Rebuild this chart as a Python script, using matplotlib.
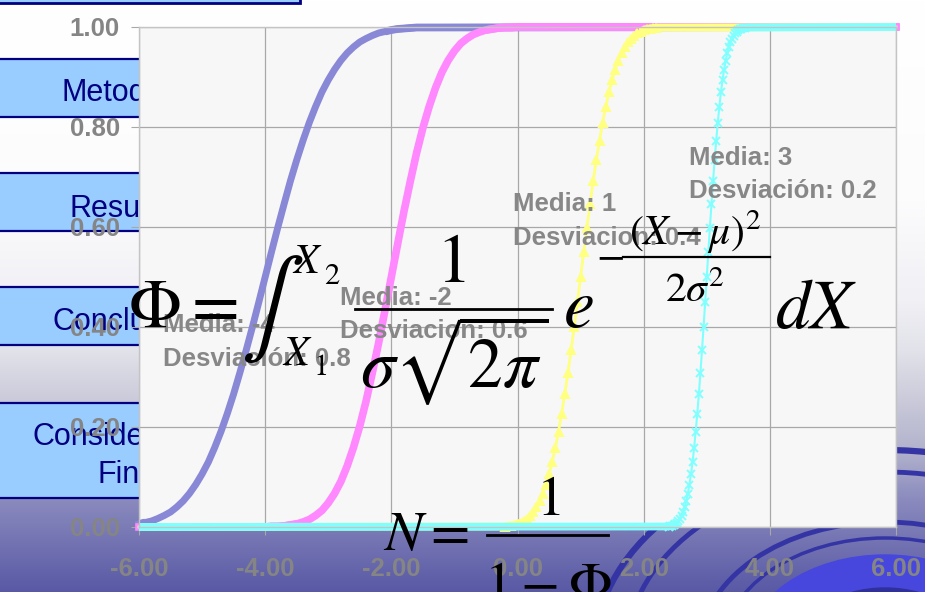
import numpy as np
import matplotlib
matplotlib.use('Agg')
import matplotlib.pyplot as plt
from matplotlib.patches import Rectangle, Ellipse

plt.rcParams['axes.unicode_minus'] = False
plt.rcParams['mathtext.fontset'] = 'stix'
plt.rcParams['font.family'] = ['Liberation Sans', 'DejaVu Sans']

# ---------- datos ----------
x_ticks = [-6, -4, -2, 0, 2, 4, 6]
x_labels = ['-6.00', '-4.00', '-2.00', '0.00', '2.00', '4.00', '6.00']
y_ticks = [0.0, 0.2, 0.4, 0.6, 0.8, 1.0]
y_labels = ['0.00', '0.20', '0.40', '0.60', '0.80', '1.00']

# Media -4, desviacion 0.8
x_m4 = [-6.0, -5.9, -5.8, -5.7, -5.6, -5.5, -5.4, -5.3, -5.2, -5.1, -5.0,
        -4.9, -4.8, -4.7, -4.6, -4.5, -4.4, -4.3, -4.2, -4.1, -4.0,
        -3.9, -3.8, -3.7, -3.6, -3.5, -3.4, -3.3, -3.2, -3.1, -3.0,
        -2.9, -2.8, -2.7, -2.6, -2.5, -2.4, -2.3, -2.2, -2.1, -2.0,
        -1.9, -1.8, -1.7, -1.6, 6.0]
y_m4 = [0.006, 0.009, 0.012, 0.017, 0.023, 0.030, 0.040, 0.052, 0.067, 0.085, 0.106,
        0.130, 0.159, 0.191, 0.227, 0.266, 0.309, 0.354, 0.401, 0.450, 0.500,
        0.550, 0.599, 0.646, 0.692, 0.734, 0.773, 0.809, 0.841, 0.870, 0.894,
        0.915, 0.933, 0.948, 0.960, 0.970, 0.977, 0.983, 0.988, 0.991, 0.994,
        0.996, 0.997, 0.998, 0.999, 1.000]

# Media -2, desviacion 0.6
x_m2 = [-6.0, -4.0, -3.9, -3.8, -3.7, -3.6, -3.5, -3.4, -3.3, -3.2, -3.1,
        -3.0, -2.9, -2.8, -2.7, -2.6, -2.5, -2.4, -2.3, -2.2, -2.1, -2.0,
        -1.9, -1.8, -1.7, -1.6, -1.5, -1.4, -1.3, -1.2, -1.1, -1.0,
        -0.9, -0.8, -0.7, -0.6, -0.5, -0.4, -0.3, -0.2, -0.1, 0.0, 6.0]
y_m2 = [0.000, 0.000, 0.001, 0.001, 0.002, 0.004, 0.006, 0.010, 0.015, 0.023, 0.033,
        0.048, 0.067, 0.091, 0.122, 0.159, 0.202, 0.252, 0.309, 0.369, 0.434, 0.500,
        0.566, 0.631, 0.691, 0.748, 0.798, 0.841, 0.878, 0.909, 0.933, 0.952,
        0.967, 0.977, 0.985, 0.990, 0.994, 0.996, 0.998, 0.999, 0.999, 1.000, 1.000]

# Media 1, desviacion 0.4
x_p1 = [-6.0, -0.2, -0.15, -0.1, -0.05, 0.0, 0.05, 0.1, 0.15, 0.2, 0.25, 0.3,
        0.35, 0.4, 0.45, 0.5, 0.55, 0.6, 0.65, 0.7, 0.75, 0.8, 0.85, 0.9, 0.95,
        1.0, 1.05, 1.1, 1.15, 1.2, 1.25, 1.3, 1.35, 1.4, 1.45, 1.5, 1.55, 1.6,
        1.65, 1.7, 1.75, 1.8, 1.85, 1.9, 1.95, 2.0, 2.05, 2.1, 2.15, 2.2, 6.0]
y_p1 = [0.000, 0.001, 0.002, 0.003, 0.004, 0.006, 0.009, 0.012, 0.017, 0.023, 0.030, 0.040,
        0.052, 0.067, 0.085, 0.106, 0.130, 0.159, 0.191, 0.227, 0.266, 0.309, 0.354, 0.401, 0.450,
        0.500, 0.550, 0.599, 0.646, 0.692, 0.734, 0.773, 0.809, 0.841, 0.870, 0.894, 0.915, 0.933,
        0.948, 0.960, 0.970, 0.977, 0.983, 0.988, 0.991, 0.994, 0.996, 0.997, 0.998, 0.999, 1.000]

# Media 3, desviacion 0.2
x_p3 = [-6.0, 2.4, 2.425, 2.45, 2.475, 2.5, 2.525, 2.55, 2.575, 2.6, 2.625, 2.65,
        2.675, 2.7, 2.725, 2.75, 2.775, 2.8, 2.825, 2.85, 2.875, 2.9, 2.925, 2.95, 2.975,
        3.0, 3.025, 3.05, 3.075, 3.1, 3.125, 3.15, 3.175, 3.2, 3.225, 3.25, 3.275, 3.3,
        3.325, 3.35, 3.375, 3.4, 3.425, 3.45, 3.475, 3.5, 3.525, 3.55, 3.575, 3.6, 6.0]
y_p3 = [0.000, 0.001, 0.002, 0.003, 0.004, 0.006, 0.009, 0.012, 0.017, 0.023, 0.030, 0.040,
        0.052, 0.067, 0.085, 0.106, 0.130, 0.159, 0.191, 0.227, 0.266, 0.309, 0.354, 0.401, 0.450,
        0.500, 0.550, 0.599, 0.646, 0.692, 0.734, 0.773, 0.809, 0.841, 0.870, 0.894, 0.915, 0.933,
        0.948, 0.960, 0.970, 0.977, 0.983, 0.988, 0.991, 0.994, 0.996, 0.997, 0.998, 0.999, 1.000]

etiquetas = [['Media: -4', 'Desviación: 0.8'],
             ['Media: -2', 'Desviacion: 0.6'],
             ['Media: 1', 'Desviacion: 0.4'],
             ['Media: 3', 'Desviación: 0.2']]

botones = ['Metodología', 'Resultados', 'Conclusiones', 'Consideraciones', 'Finales']

# ---------- figura (coordenadas en pixeles) ----------
W, H = 925, 592
fig = plt.figure(figsize=(W / 100, H / 100), dpi=100)

# fondo de la diapositiva
bg = fig.add_axes([0, 0, 1, 1], zorder=0)
bg.set_xlim(0, W)
bg.set_ylim(H, 0)
bg.axis('off')
stop_y = [0, 200, 300, 350, 400, 450, 500, 592]
stop_c = np.array([[255, 255, 255], [252, 252, 253], [240, 240, 245], [226, 226, 234],
                   [202, 202, 218], [178, 178, 205], [138, 138, 190], [88, 88, 165]]) / 255
rows = np.arange(H)
grad = np.stack([np.interp(rows, stop_y, stop_c[:, k]) for k in range(3)], axis=-1)[:, None, :]
bg.imshow(grad, extent=(0, W, H, 0), aspect='auto', zorder=0)

# arcos decorativos abajo a la derecha
for b, lw in [(200, 4.5), (178, 3.5), (128, 3.5), (112, 2.5)]:
    bg.add_patch(Ellipse((885, 650), 2 * b * 1.45, 2 * b, fill=False,
                         edgecolor='#3434A4', lw=lw, zorder=1))
bg.add_patch(Ellipse((885, 650), 2 * 95 * 1.45, 2 * 95, color='#4747DD', zorder=1))
bg.add_patch(Ellipse((885, 650), 2 * 62 * 1.45, 2 * 62, color='#30309C', zorder=1))

# botones del menu lateral
bg.add_patch(Rectangle((-3, -12), 303, 15, facecolor='#99CCFF', edgecolor='#000080', lw=2, zorder=2))
for top, bottom in [(59, 117), (173, 231), (287, 345), (403, 498)]:
    bg.add_patch(Rectangle((-3, top), 303, bottom - top, facecolor='#99CCFF',
                           edgecolor='#000080', lw=1.6, zorder=2))
for txt, (bx, by) in zip(botones, [(62, 101), (70, 217), (53, 330), (32, 445), (98, 483)]):
    bg.text(bx, by, txt, fontsize=22, color='#000080', va='baseline', ha='left', zorder=3)

# ---------- grafico ----------
ax = fig.add_axes([139 / W, 1 - 527 / H, 757 / W, 500 / H], zorder=1)
ax.set_facecolor('#F7F7F7')
ax.set_xlim(-6, 6)
ax.set_ylim(0, 1)
ax.set_xticks(x_ticks)
ax.set_xticklabels(x_labels, fontweight='bold')
ax.set_yticks(y_ticks)
ax.set_yticklabels(y_labels, fontweight='bold')
ax.tick_params(colors='#A8A8A8', labelcolor='#858585', labelsize=18.5, length=5.8, width=0.8)
ax.tick_params(axis='x', pad=16)
ax.tick_params(axis='y', pad=8)
for s in ax.spines.values():
    s.set_color('#C4C4C4')
    s.set_linewidth(1)
ax.grid(True, color='#A8A8A8', lw=0.9)
ax.set_axisbelow(True)


def serie(x, y, color, lw, marker=None, ms=0):
    x = np.array(x)
    y = np.array(y)
    plano = (y < 0.01) | (y > 0.99)
    ax.plot(x, np.where(plano, y, np.nan), color=color, lw=5.6,
            solid_capstyle='butt', clip_on=False)
    ax.plot(x, y, color=color, lw=lw, marker=marker, ms=ms, mew=1.4,
            markevery=slice(1, -1), clip_on=False)


serie(x_m4, y_m4, '#8888D6', 5.0)
serie(x_m2, y_m2, '#FF88FF', 5.5)
serie(x_p1, y_p1, '#FFFF80', 2.0, '^', 6)
serie(x_p3, y_p3, '#80FFFF', 1.5, 'x', 6)

# ---------- capa superior: etiquetas y formulas ----------
ov = fig.add_axes([0, 0, 1, 1], zorder=2)
ov.set_xlim(0, W)
ov.set_ylim(H, 0)
ov.axis('off')
ov.patch.set_alpha(0)

for (l1, l2), (tx, b1, b2) in zip(etiquetas, [(163, 332, 366), (340, 305, 338),
                                             (513, 211, 245), (689, 165, 198)]):
    ov.text(tx, b1, l1, fontsize=18.5, fontweight='bold', color='#878787', va='baseline')
    ov.text(tx, b2, l2, fontsize=18.5, fontweight='bold', color='#878787', va='baseline')

negro = 'black'
ov.text(128, 327, r'$\Phi =$', fontsize=50, color=negro, va='baseline', ha='left')
ov.text(272, 309, r'$\int$', fontsize=68, color=negro, va='center', ha='center')
ov.text(292, 273, r'$X$', fontsize=30, color=negro, va='baseline', ha='left')
ov.text(324, 284, r'$2$', fontsize=22, color=negro, va='baseline', ha='left')
ov.text(282, 365, r'$X$', fontsize=30, color=negro, va='baseline', ha='left')
ov.text(313, 375, r'$1$', fontsize=22, color=negro, va='baseline', ha='left')
ov.text(451, 282, r'$1$', fontsize=50, color=negro, va='baseline', ha='center')
ov.plot([355, 552], [309, 309], color=negro, lw=2)
ov.text(454, 387, r'$\sigma\sqrt{2\pi}$', fontsize=50, color=negro, va='baseline', ha='center')
ov.text(563, 327, r'$e$', fontsize=50, color=negro, va='baseline', ha='left')
ov.text(596, 267, r'$-$', fontsize=30, color=negro, va='baseline', ha='left')
ov.text(695, 245, r'$(X-\mu)^2$', fontsize=30, color=negro, va='baseline', ha='center')
ov.plot([623, 770], [257, 257], color=negro, lw=1.6)
ov.text(695, 302, r'$2\sigma^2$', fontsize=30, color=negro, va='baseline', ha='center')
ov.text(775, 328, r'$dX$', fontsize=50, color=negro, va='baseline', ha='left')

ov.text(383, 550, r'$N =$', fontsize=41, color=negro, va='baseline', ha='left')
ov.text(548, 515, r'$1$', fontsize=41, color=negro, va='baseline', ha='center')
ov.plot([487, 608], [535, 535], color=negro, lw=2)
ov.text(548, 601, r'$1-\Phi$', fontsize=41, color=negro, va='baseline', ha='center')

fig.savefig('out.png', dpi=100)
